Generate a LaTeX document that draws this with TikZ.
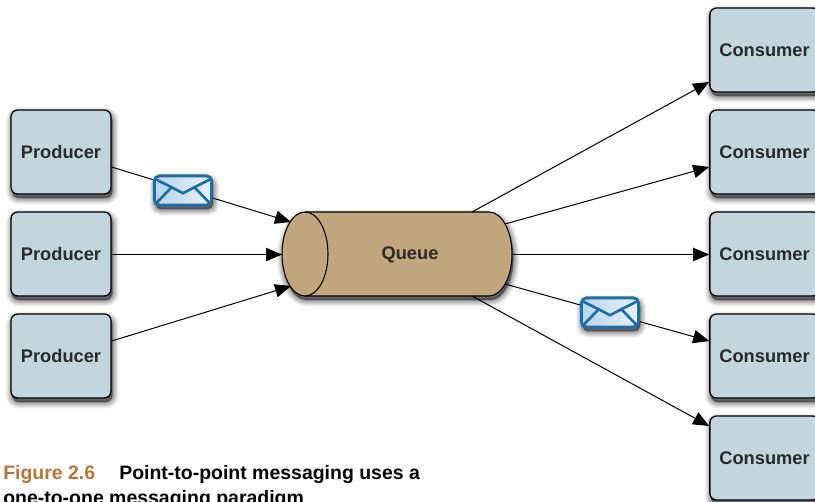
\documentclass[tikz,border=0pt]{standalone}
\usepackage{fontspec}
\setmainfont{Liberation Sans}
\usetikzlibrary{arrows.meta,calc}
\definecolor{boxfill}{HTML}{C3D5DD}
\definecolor{queuefill}{HTML}{C2A67D}
\definecolor{envblue}{HTML}{1F6EA3}
\definecolor{envdark}{HTML}{BAD4EE}
\definecolor{envlight}{HTML}{E6F1FA}
\definecolor{figbrown}{HTML}{B5763A}
\definecolor{labelink}{HTML}{2A2A2A}
\tikzset{
  shadowlayer/.style 2 args={preaction={draw=black,fill=black,draw opacity=#2,fill opacity=#2,line width=#1,transform canvas={xshift=1pt,yshift=-3pt}}},
  softshadow/.style={
    shadowlayer={10pt}{.04},shadowlayer={8.5pt}{.05},shadowlayer={7pt}{.06},
    shadowlayer={5.5pt}{.07},shadowlayer={4pt}{.08},shadowlayer={2.5pt}{.09},
    shadowlayer={1pt}{.10},shadowlayer={0.1pt}{.10}},
  agent/.style={softshadow,draw=black,line width=1pt,fill=boxfill,rounded corners=5pt,
    minimum width=75pt,minimum height=63pt,inner sep=0pt,
    font=\fontsize{13.7pt}{16pt}\selectfont\bfseries,text=labelink},
  wideagent/.style={agent,minimum width=82pt},
  queueshape/.style={softshadow,draw=black,line width=.8pt,fill=queuefill},
  queueedge/.style={draw=black,line width=.8pt},
  queuelabel/.style={font=\fontsize{13.7pt}{16pt}\selectfont\bfseries,text=labelink,inner sep=0pt},
  flow/.style={draw=black,line width=.75pt,-{Triangle[length=12pt,width=10pt]}},
  envelope/.style={softshadow,draw=envblue,line width=2.2pt,rounded corners=4pt,
    minimum width=43pt,minimum height=22pt,inner sep=0pt,
    left color=envdark,right color=envlight,
    path picture={
      \draw[envblue,line width=2pt,sharp corners]
        ($(path picture bounding box.north west)+(0,-2pt)$)
        -- ($(path picture bounding box.north)+(0,-13pt)$)
        -- ($(path picture bounding box.north east)+(0,-2pt)$);
      \draw[envblue,line width=2pt,sharp corners]
        (path picture bounding box.south west) -- ++(13.5pt,14pt);
      \draw[envblue,line width=2pt,sharp corners]
        (path picture bounding box.south east) -- ++(-13.5pt,14pt);
    }},
  figlabel/.style={anchor=base west,inner sep=0pt,font=\fontsize{14.6pt}{17pt}\selectfont\bfseries}
}
\begin{document}
\begin{tikzpicture}[x=.75pt,y=-.75pt]
\useasboundingbox (0,0) rectangle (815,501);
\clip (0,0) rectangle (815,501);
\fill[white] (0,0) rectangle (815,501);
\node[agent] (p1) at (61,152) {Producer};
\node[agent] (p2) at (61,254) {Producer};
\node[agent] (p3) at (61,356) {Producer};
\node[wideagent] (c1) at (764.5,50) {Consumer};
\node[wideagent] (c2) at (764.5,152) {Consumer};
\node[wideagent] (c3) at (764.5,254) {Consumer};
\node[wideagent] (c4) at (764.5,356) {Consumer};
\node[wideagent] (c5) at (764.5,458) {Consumer};
\path[queueshape] (305,212) -- (489,212)
  arc[start angle=90,end angle=-90,x radius=17.25pt,y radius=31.5pt]
  -- (305,296)
  arc[start angle=270,end angle=90,x radius=17.25pt,y radius=31.5pt] -- cycle;
\draw[queueedge] (305,212) arc[start angle=90,end angle=-90,x radius=17.25pt,y radius=31.5pt];
\node[queuelabel] (q) at (410,254.5) {Queue};
\coordinate (qin1) at (291,222);
\coordinate (qin2) at (282,254.5);
\coordinate (qin3) at (291,286);
\coordinate (qout1) at (472,212);
\coordinate (qout2) at (505,224);
\coordinate (qout3) at (512,254.5);
\coordinate (qout4) at (505,284);
\coordinate (qout5) at (472,296);
\draw[flow] ([yshift=-11.25pt]p1.east) -- (qin1);
\draw[flow] ([yshift=-.375pt]p2.east) -- (qin2);
\draw[flow] ([yshift=11.25pt]p3.east) -- (qin3);
\draw[flow] (qout1) -- ([yshift=-24pt]c1.west);
\draw[flow] (qout2) -- ([yshift=-11.25pt]c2.west);
\draw[flow] (qout3) -- ([yshift=-.375pt]c3.west);
\draw[flow] (qout4) -- ([yshift=11.25pt]c4.west);
\draw[flow] (qout5) -- ([yshift=24pt]c5.west);
\node[envelope] (e1) at (183,190.5) {};
\node[envelope] (e2) at (610,312.5) {};
\node[figlabel,text=figbrown] (figno) at (3,479) {Figure 2.6};
\node[figlabel,text=black] (cap1) at (119,479) {Point-to-point messaging uses a};
\node[figlabel,text=black] (cap2) at (3,504) {one-to-one messaging paradigm};
\end{tikzpicture}
\end{document}
